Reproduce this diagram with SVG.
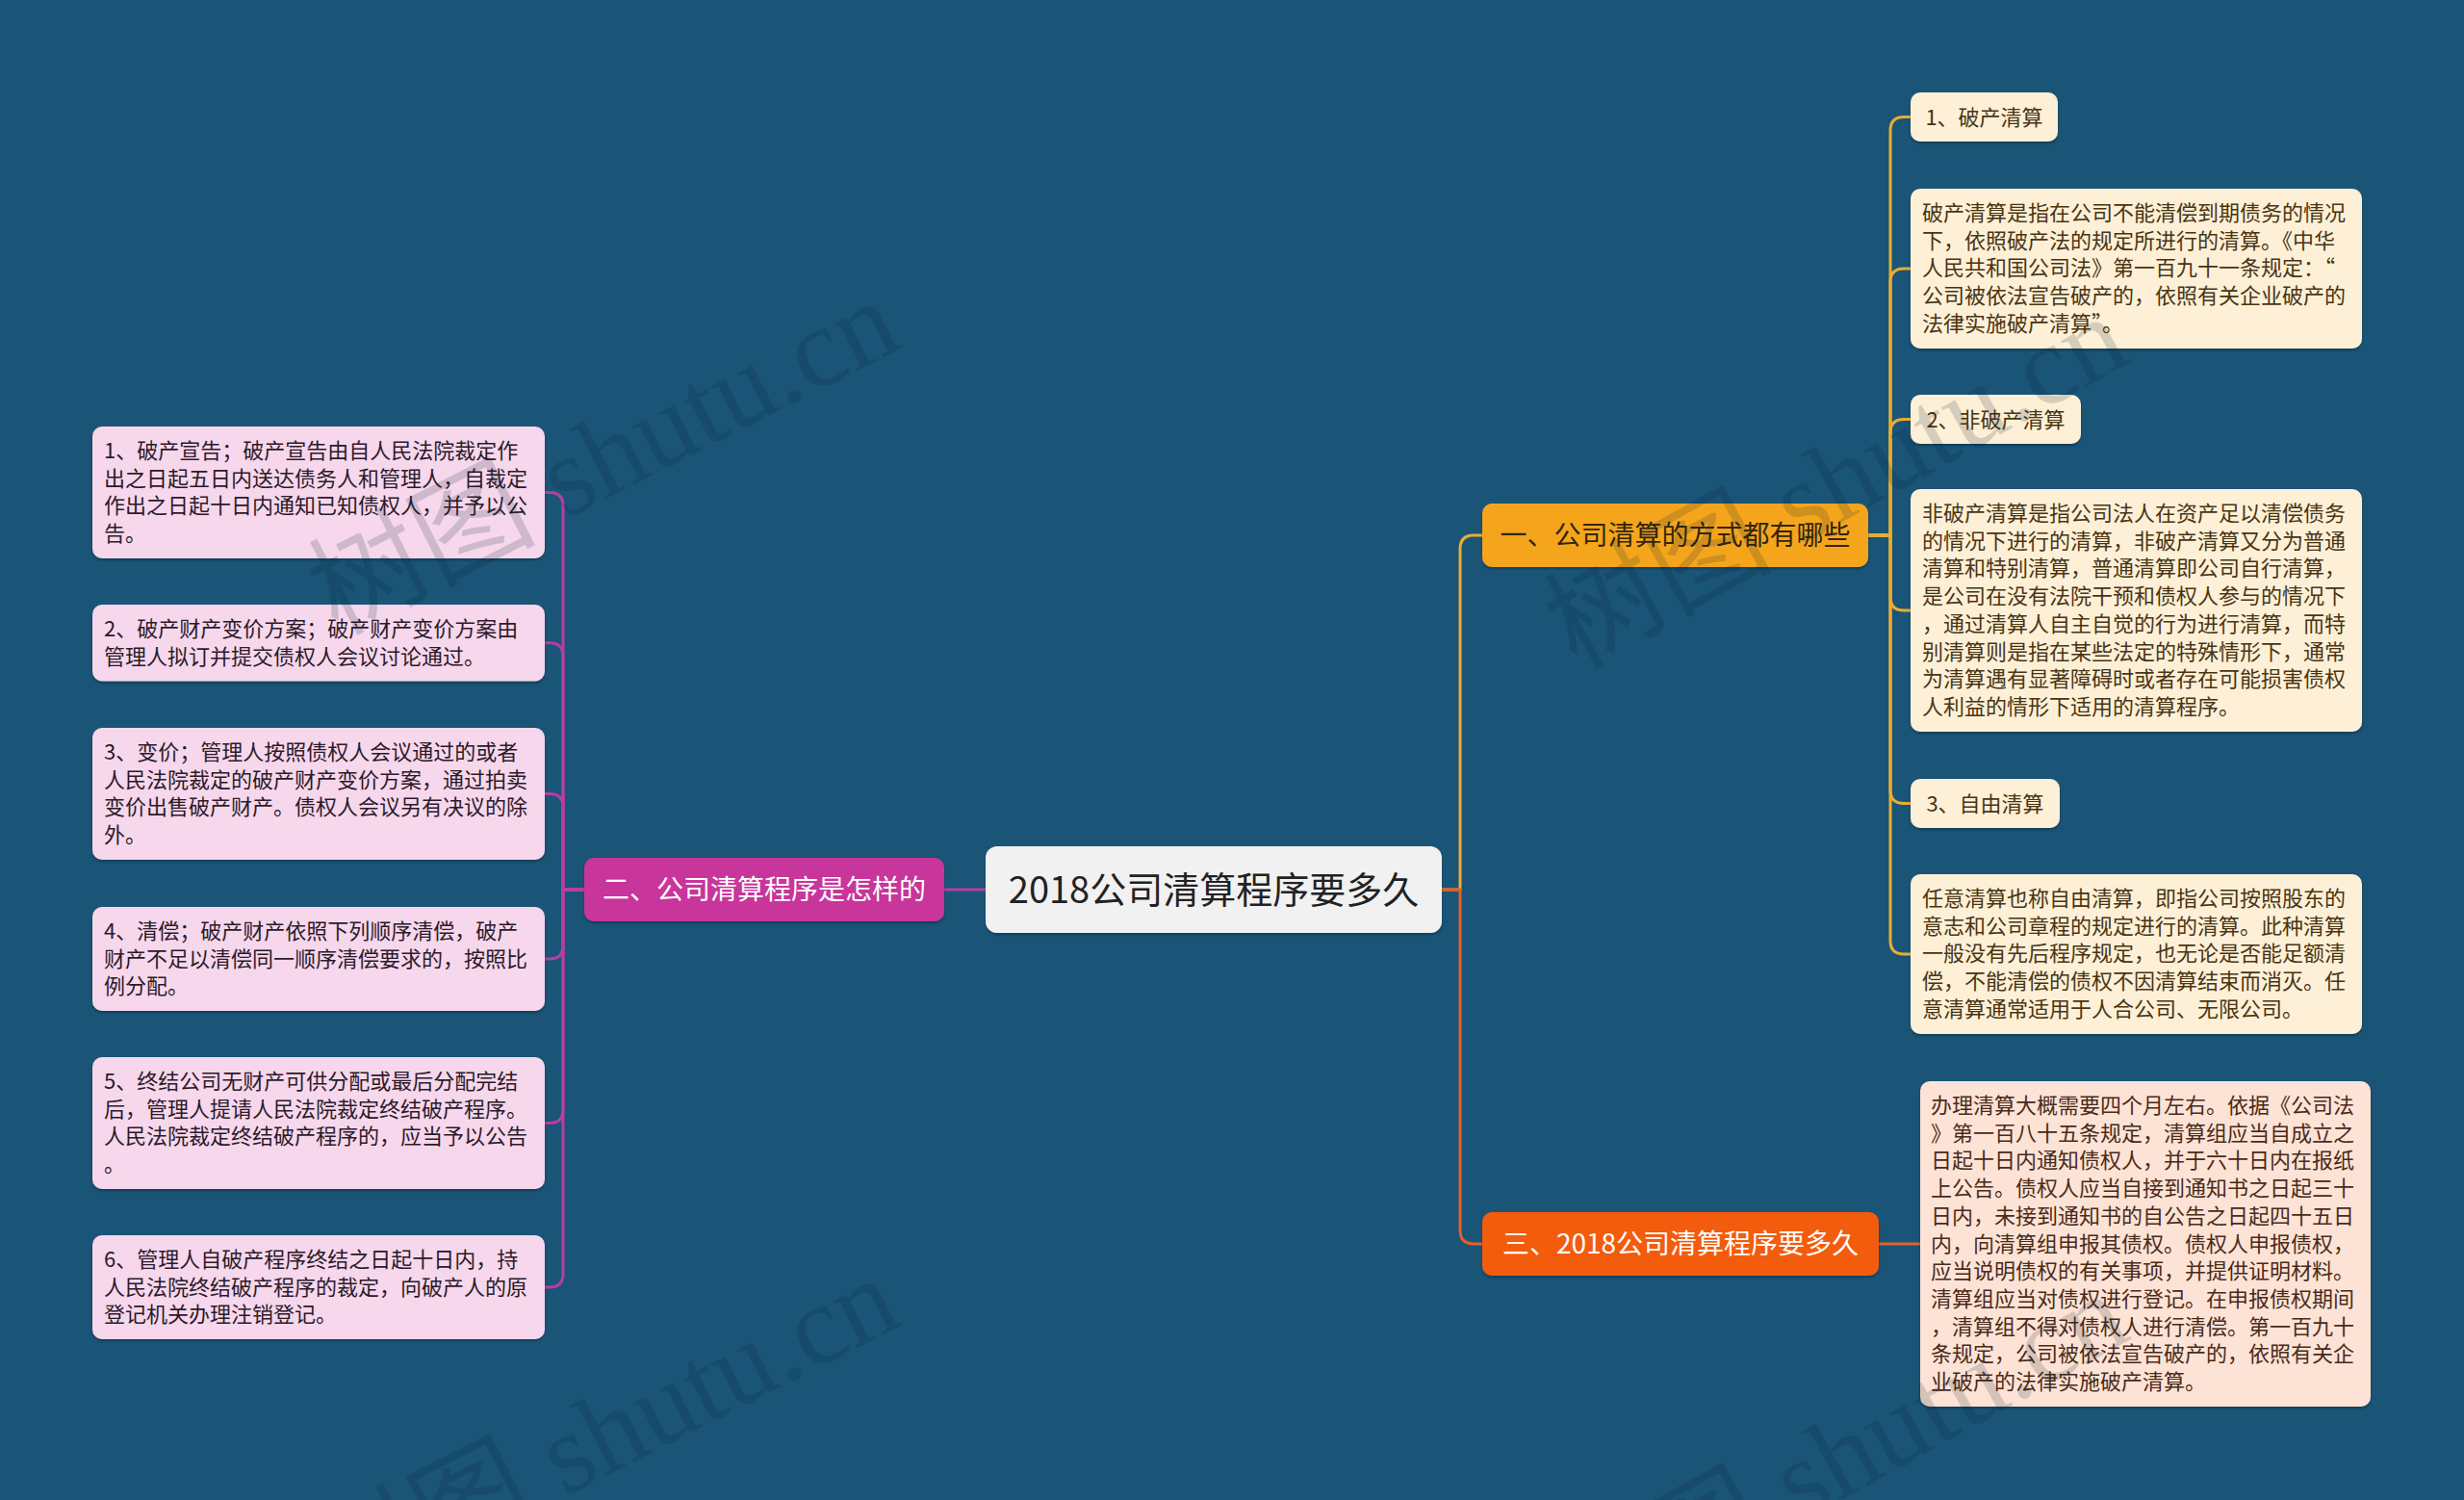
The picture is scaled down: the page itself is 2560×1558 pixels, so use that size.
<svg xmlns="http://www.w3.org/2000/svg" width="2560" height="1558" viewBox="0 0 2560 1558">
<defs>
<filter id="sh" x="-5%" y="-5%" width="110%" height="120%">
<feDropShadow dx="0" dy="2" stdDeviation="1.2" flood-color="#082234" flood-opacity="0.45"/>
</filter>
</defs>
<style>
text{font-family:"Noto Sans CJK SC","Microsoft YaHei",sans-serif;}
.lp{fill:#f6d7ec;filter:url(#sh);}
.lg{fill:#fdf0d7;filter:url(#sh);}
.lr{fill:#fde3d5;filter:url(#sh);}
.tp{font-size:22px;fill:#2c1a29;}
.tg{font-size:22px;fill:#4a3412;}
.tr{font-size:22px;fill:#4a2a1a;}
.main{font-size:28px;}
.cp{fill:none;stroke:#b73ea3;stroke-width:3;}
.cg{fill:none;stroke:#e9ad33;stroke-width:3;}
.cr{fill:none;stroke:#e2602a;stroke-width:3;}
.wm{font-family:"Liberation Serif","Noto Sans CJK SC",serif;font-size:118px;fill:#06202f;opacity:0.16;}
</style>
<rect x="0" y="0" width="2560" height="1558" fill="#1a5477"/>

<g id="connectors">
<path class="cp" d="M1024,924 H981"/>
<path class="cp" d="M607,924 H585 V525.4 Q585,511.4 571,511.4 H566"/>
<path class="cp" d="M607,924 H585 V681.7 Q585,667.7 571,667.7 H566"/>
<path class="cp" d="M607,924 H585 V838.4 Q585,824.4 571,824.4 H566"/>
<path class="cp" d="M607,924 H585 V982 Q585,996 571,996 H566"/>
<path class="cp" d="M607,924 H585 V1152.4 Q585,1166.4 571,1166.4 H566"/>
<path class="cp" d="M607,924 H585 V1323 Q585,1337 571,1337 H566"/>
<path class="cg" d="M1498,924 H1517 V570 Q1517,556 1531,556 H1540"/>
<path class="cg" d="M1941,556 H1964 V135.5 Q1964,121.5 1978,121.5 H1985"/>
<path class="cg" d="M1941,556 H1964 V293 Q1964,279 1978,279 H1985"/>
<path class="cg" d="M1941,556 H1964 V449.5 Q1964,435.5 1978,435.5 H1985"/>
<path class="cg" d="M1941,556 H1964 V620 Q1964,634 1978,634 H1985"/>
<path class="cg" d="M1941,556 H1964 V820.5 Q1964,834.5 1978,834.5 H1985"/>
<path class="cg" d="M1941,556 H1964 V977 Q1964,991 1978,991 H1985"/>
<path class="cr" d="M1498,924 H1517 V1278 Q1517,1292 1531,1292 H1540"/>
<path class="cr" d="M1952,1292 H1995"/>
</g>

<g id="root">
<rect x="1024" y="879" width="474" height="90" rx="12" fill="#f1f1f1" filter="url(#sh)"/>
<text x="1261" y="938" text-anchor="middle" font-size="38" fill="#222">2018公司清算程序要多久</text>
</g>

<g id="branch2">
<rect x="607" y="891" width="374" height="66" rx="10" fill="#c8369b" filter="url(#sh)"/>
<text class="main" x="794" y="934" text-anchor="middle" fill="#ffffff">二、公司清算程序是怎样的</text>
</g>

<g id="b2-1">
<rect class="lp" x="96" y="443" width="470" height="137" rx="10"/>
<text class="tp" x="108" y="476"><tspan x="108">1、破产宣告；破产宣告由自人民法院裁定作</tspan><tspan x="108" dy="28.7">出之日起五日内送达债务人和管理人，自裁定</tspan><tspan x="108" dy="28.7">作出之日起十日内通知已知债权人，并予以公</tspan><tspan x="108" dy="28.7">告。</tspan></text>
</g>
<g id="b2-2">
<rect class="lp" x="96" y="628" width="470" height="79.4" rx="10"/>
<text class="tp" x="108" y="661"><tspan x="108">2、破产财产变价方案；破产财产变价方案由</tspan><tspan x="108" dy="28.7">管理人拟订并提交债权人会议讨论通过。</tspan></text>
</g>
<g id="b2-3">
<rect class="lp" x="96" y="756" width="470" height="137" rx="10"/>
<text class="tp" x="108" y="789"><tspan x="108">3、变价；管理人按照债权人会议通过的或者</tspan><tspan x="108" dy="28.7">人民法院裁定的破产财产变价方案，通过拍卖</tspan><tspan x="108" dy="28.7">变价出售破产财产。债权人会议另有决议的除</tspan><tspan x="108" dy="28.7">外。</tspan></text>
</g>
<g id="b2-4">
<rect class="lp" x="96" y="942" width="470" height="108" rx="10"/>
<text class="tp" x="108" y="975"><tspan x="108">4、清偿；破产财产依照下列顺序清偿，破产</tspan><tspan x="108" dy="28.7">财产不足以清偿同一顺序清偿要求的，按照比</tspan><tspan x="108" dy="28.7">例分配。</tspan></text>
</g>
<g id="b2-5">
<rect class="lp" x="96" y="1098" width="470" height="137" rx="10"/>
<text class="tp" x="108" y="1131"><tspan x="108">5、终结公司无财产可供分配或最后分配完结</tspan><tspan x="108" dy="28.7">后，管理人提请人民法院裁定终结破产程序。</tspan><tspan x="108" dy="28.7">人民法院裁定终结破产程序的，应当予以公告</tspan><tspan x="108" dy="28.7">。</tspan></text>
</g>
<g id="b2-6">
<rect class="lp" x="96" y="1283" width="470" height="108" rx="10"/>
<text class="tp" x="108" y="1316"><tspan x="108">6、管理人自破产程序终结之日起十日内，持</tspan><tspan x="108" dy="28.7">人民法院终结破产程序的裁定，向破产人的原</tspan><tspan x="108" dy="28.7">登记机关办理注销登记。</tspan></text>
</g>

<g id="branch1">
<rect x="1540" y="523" width="401" height="66" rx="10" fill="#f5a51f" filter="url(#sh)"/>
<text class="main" x="1740.5" y="566" text-anchor="middle" fill="#33250d">一、公司清算的方式都有哪些</text>
</g>
<g id="b1-1">
<rect class="lg" x="1985" y="96" width="153" height="51" rx="10"/>
<text class="tg" x="2061.5" y="129.5" text-anchor="middle">1、破产清算</text>
</g>
<g id="b1-1d">
<rect class="lg" x="1985" y="196" width="469" height="166" rx="10"/>
<text class="tg" x="1997" y="229"><tspan x="1997">破产清算是指在公司不能清偿到期债务的情况</tspan><tspan x="1997" dy="28.7">下，依照破产法的规定所进行的清算。《中华</tspan><tspan x="1997" dy="28.7">人民共和国公司法》第一百九十一条规定：“</tspan><tspan x="1997" dy="28.7">公司被依法宣告破产的，依照有关企业破产的</tspan><tspan x="1997" dy="28.7">法律实施破产清算”。</tspan></text>
</g>
<g id="b1-2">
<rect class="lg" x="1985" y="410" width="177" height="51" rx="10"/>
<text class="tg" x="2073.5" y="443.5" text-anchor="middle">2、非破产清算</text>
</g>
<g id="b1-2d">
<rect class="lg" x="1985" y="508" width="469" height="252" rx="10"/>
<text class="tg" x="1997" y="541"><tspan x="1997">非破产清算是指公司法人在资产足以清偿债务</tspan><tspan x="1997" dy="28.7">的情况下进行的清算，非破产清算又分为普通</tspan><tspan x="1997" dy="28.7">清算和特别清算，普通清算即公司自行清算，</tspan><tspan x="1997" dy="28.7">是公司在没有法院干预和债权人参与的情况下</tspan><tspan x="1997" dy="28.7">，通过清算人自主自觉的行为进行清算，而特</tspan><tspan x="1997" dy="28.7">别清算则是指在某些法定的特殊情形下，通常</tspan><tspan x="1997" dy="28.7">为清算遇有显著障碍时或者存在可能损害债权</tspan><tspan x="1997" dy="28.7">人利益的情形下适用的清算程序。</tspan></text>
</g>
<g id="b1-3">
<rect class="lg" x="1985" y="809" width="155" height="51" rx="10"/>
<text class="tg" x="2062.5" y="842.5" text-anchor="middle">3、自由清算</text>
</g>
<g id="b1-3d">
<rect class="lg" x="1985" y="908" width="469" height="166" rx="10"/>
<text class="tg" x="1997" y="941"><tspan x="1997">任意清算也称自由清算，即指公司按照股东的</tspan><tspan x="1997" dy="28.7">意志和公司章程的规定进行的清算。此种清算</tspan><tspan x="1997" dy="28.7">一般没有先后程序规定，也无论是否能足额清</tspan><tspan x="1997" dy="28.7">偿，不能清偿的债权不因清算结束而消灭。任</tspan><tspan x="1997" dy="28.7">意清算通常适用于人合公司、无限公司。</tspan></text>
</g>

<g id="branch3">
<rect x="1540" y="1259" width="412" height="66" rx="10" fill="#f35c0c" filter="url(#sh)"/>
<text class="main" x="1746" y="1302" text-anchor="middle" fill="#ffffff">三、2018公司清算程序要多久</text>
</g>
<g id="b3-1">
<rect class="lr" x="1995" y="1123" width="468" height="338" rx="10"/>
<text class="tr" x="2006" y="1156"><tspan x="2006">办理清算大概需要四个月左右。依据《公司法</tspan><tspan x="2006" dy="28.7">》第一百八十五条规定，清算组应当自成立之</tspan><tspan x="2006" dy="28.7">日起十日内通知债权人，并于六十日内在报纸</tspan><tspan x="2006" dy="28.7">上公告。债权人应当自接到通知书之日起三十</tspan><tspan x="2006" dy="28.7">日内，未接到通知书的自公告之日起四十五日</tspan><tspan x="2006" dy="28.7">内，向清算组申报其债权。债权人申报债权，</tspan><tspan x="2006" dy="28.7">应当说明债权的有关事项，并提供证明材料。</tspan><tspan x="2006" dy="28.7">清算组应当对债权进行登记。在申报债权期间</tspan><tspan x="2006" dy="28.7">，清算组不得对债权人进行清偿。第一百九十</tspan><tspan x="2006" dy="28.7">条规定，公司被依法宣告破产的，依照有关企</tspan><tspan x="2006" dy="28.7">业破产的法律实施破产清算。</tspan></text>
</g>

<g id="watermarks">
<text class="wm" x="645" y="510" text-anchor="middle" transform="rotate(-27 645 510)">树图 shutu.cn</text>
<text class="wm" x="1927" y="535" text-anchor="middle" transform="rotate(-29 1927 535)">树图 shutu.cn</text>
<text class="wm" x="645" y="1525" text-anchor="middle" transform="rotate(-27 645 1525)">树图 shutu.cn</text>
<text class="wm" x="1927" y="1550" text-anchor="middle" transform="rotate(-29 1927 1550)">树图 shutu.cn</text>
</g>
</svg>
